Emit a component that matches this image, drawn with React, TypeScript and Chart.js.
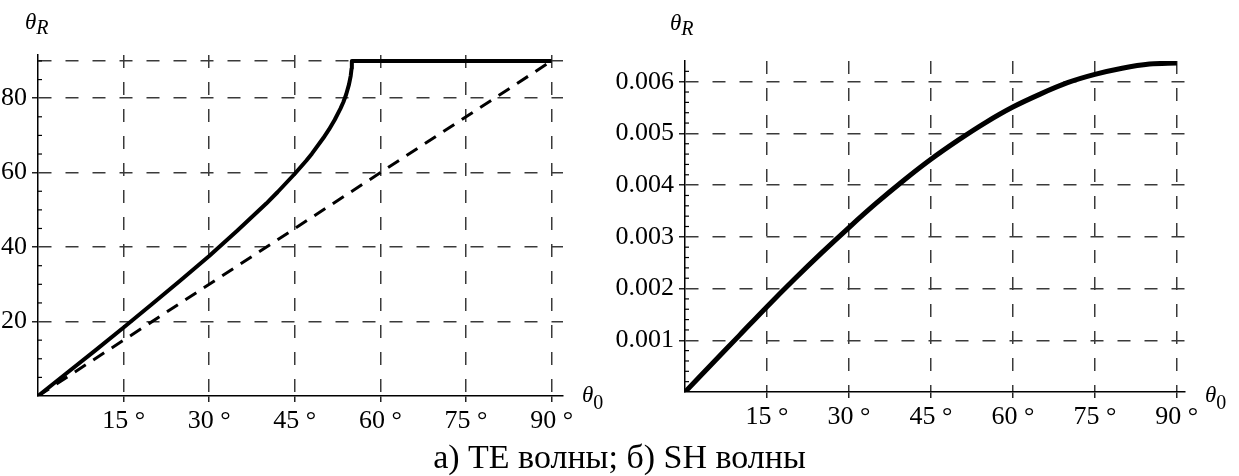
import React, { useEffect, useRef } from 'react';
import { Chart, registerables } from 'chart.js';

Chart.register(...registerables);

// ---- data: a) TE waves ----
const teIncidence = [0, 5, 10, 15, 20, 25, 30, 35, 40, 42, 45, 47, 48, 50, 51, 52, 53, 53.5, 54, 54.5, 54.8, 54.95, 55, 60, 65, 70, 75, 80, 85, 90];
const teRefracted = [0, 6.1, 12.2, 18.4, 24.7, 31.1, 37.6, 44.5, 51.7, 54.8, 59.7, 63.2, 65.1, 69.3, 71.6, 74.2, 77.2, 78.9, 81.0, 83.7, 86.0, 88.0, 90, 90, 90, 90, 90, 90, 90, 90];
const refIncidence = [0, 90];
const refValues = [0, 90];

// ---- data: б) SH waves ----
const shIncidence = [0, 5, 10, 15, 20, 25, 30, 35, 40, 45, 50, 55, 60, 65, 70, 75, 80, 85, 90];
const shRefracted = [0, 0.00055, 0.0011, 0.00165, 0.00218, 0.00269, 0.00318, 0.00365, 0.00409, 0.0045, 0.00487, 0.00521, 0.00551, 0.00576, 0.00598, 0.00614, 0.00626, 0.00634, 0.00636];

// ---- ticks ----
const xTicks = [0, 15, 30, 45, 60, 75, 90];
const xLabels = ['', '15 °', '30 °', '45 °', '60 °', '75 °', '90 °'];
const leftYTicks = [0, 5, 10, 15, 20, 25, 30, 35, 40, 45, 50, 55, 60, 65, 70, 75, 80, 85, 90];
const leftYLabelled = [20, 40, 60, 80];
const leftYGrid = [20, 40, 60, 80, 90];
const rightYTicks = [0, 0.0002, 0.0004, 0.0006, 0.0008, 0.001, 0.0012, 0.0014, 0.0016, 0.0018, 0.002, 0.0022, 0.0024, 0.0026, 0.0028, 0.003, 0.0032, 0.0034, 0.0036, 0.0038, 0.004, 0.0042, 0.0044, 0.0046, 0.0048, 0.005, 0.0052, 0.0054, 0.0056, 0.0058, 0.006, 0.0062];
const rightYLabelled = [0.001, 0.002, 0.003, 0.004, 0.005, 0.006];

const SERIF = "'Liberation Serif', 'Times New Roman', serif";
const GRID = '#3a3a3a';
const near = (a: number, list: number[]) => list.some((v) => Math.abs(v - a) < 1e-9);

const minorTicksPlugin = {
  id: 'minorTicks',
  afterDatasetsDraw(chart: any, _args: any, opts: any) {
    const y = chart.scales.y;
    const ctx = chart.ctx;
    ctx.save();
    ctx.strokeStyle = '#000';
    ctx.lineWidth = 1.2;
    for (const v of opts.values as number[]) {
      if (near(v, opts.skip)) continue;
      const py = y.getPixelForValue(v);
      ctx.beginPath();
      ctx.moveTo(y.right, py);
      ctx.lineTo(y.right + 4, py);
      ctx.stroke();
    }
    ctx.restore();
  },
};

function makeOptions(cfg: {
  xMax: number; yMax: number; yTicks: number[]; yLabelled: number[]; yGrid: number[];
  yFmt: (v: number) => string; yWidth: number; xHeight: number; padTop: number; padRight: number;
}) {
  return {
    animation: false,
    responsive: false,
    maintainAspectRatio: false,
    layout: { padding: { top: cfg.padTop, right: cfg.padRight, left: 0, bottom: 0 } },
    plugins: {
      legend: { display: false },
      tooltip: { enabled: false },
      minorTicks: { values: cfg.yTicks, skip: [0, ...cfg.yLabelled] },
    },
    elements: { point: { radius: 0 } },
    scales: {
      x: {
        type: 'linear',
        min: 0,
        max: cfg.xMax,
        afterBuildTicks: (s: any) => { s.ticks = xTicks.map((v) => ({ value: v })); },
        afterFit: (s: any) => { s.height = cfg.xHeight; },
        ticks: {
          autoSkip: false,
          maxRotation: 0,
          padding: 4,
          color: '#000',
          font: { family: SERIF, size: 26 },
          callback: (v: number) => xLabels[xTicks.indexOf(v)] ?? '',
        },
        grid: {
          color: (c: any) => (c.tick && c.tick.value > 0 ? GRID : 'rgba(0,0,0,0)'),
          tickColor: (c: any) => (c.tick && c.tick.value > 0 ? '#222' : 'rgba(0,0,0,0)'),
          lineWidth: 1.5,
          tickLength: 6,
        },
        border: { display: true, color: '#000', width: 1.5, dash: [13, 14] },
      },
      y: {
        type: 'linear',
        min: 0,
        max: cfg.yMax,
        afterBuildTicks: (s: any) => { s.ticks = cfg.yTicks.map((v) => ({ value: v })); },
        afterFit: (s: any) => { s.width = cfg.yWidth; },
        ticks: {
          autoSkip: false,
          padding: 5,
          color: '#000',
          font: { family: SERIF, size: 26 },
          callback: (v: number) => (near(v, cfg.yLabelled) ? cfg.yFmt(v) : ''),
        },
        grid: {
          color: (c: any) => (c.tick && near(c.tick.value, cfg.yGrid) ? GRID : 'rgba(0,0,0,0)'),
          tickColor: (c: any) => (c.tick && near(c.tick.value, cfg.yLabelled) ? '#222' : 'rgba(0,0,0,0)'),
          lineWidth: 1.5,
          tickLength: 6,
        },
        border: { display: true, color: '#000', width: 1.5, dash: [13, 14] },
      },
    },
  } as any;
}

function TEChart() {
  const ref = useRef<HTMLCanvasElement | null>(null);
  useEffect(() => {
    if (!ref.current) return;
    const chart = new Chart(ref.current, {
      type: 'line',
      data: {
        datasets: [
          {
            data: teIncidence.map((x, i) => ({ x, y: teRefracted[i] })),
            borderColor: '#000',
            borderWidth: 4,
            borderJoinStyle: 'round',
            tension: 0,
            pointRadius: 0,
          },
          {
            data: refIncidence.map((x, i) => ({ x, y: refValues[i] })),
            borderColor: '#000',
            borderWidth: 3,
            borderDash: [13, 9],
            tension: 0,
            pointRadius: 0,
          },
        ],
      },
      options: makeOptions({
        xMax: 92, yMax: 91.6, yTicks: leftYTicks, yLabelled: leftYLabelled, yGrid: leftYGrid,
        yFmt: (v) => String(v), yWidth: 38, xHeight: 44, padTop: 55, padRight: 600 - 563,
      }),
      plugins: [minorTicksPlugin],
    } as any);
    return () => chart.destroy();
  }, []);
  return <canvas ref={ref} width={600} height={440} style={{ position: 'absolute', left: 0, top: 0, width: 600, height: 440 }} />;
}

function SHChart() {
  const ref = useRef<HTMLCanvasElement | null>(null);
  useEffect(() => {
    if (!ref.current) return;
    const chart = new Chart(ref.current, {
      type: 'line',
      data: {
        datasets: [
          {
            data: shIncidence.map((x, i) => ({ x, y: shRefracted[i] })),
            borderColor: '#000',
            borderWidth: 5,
            cubicInterpolationMode: 'monotone',
            pointRadius: 0,
          },
        ],
      },
      options: makeOptions({
        xMax: 91.5, yMax: 0.0064, yTicks: rightYTicks, yLabelled: rightYLabelled, yGrid: rightYLabelled,
        yFmt: (v) => v.toFixed(3), yWidth: 85, xHeight: 48, padTop: 61, padRight: 639 - 585,
      }),
      plugins: [minorTicksPlugin],
    } as any);
    return () => chart.destroy();
  }, []);
  return <canvas ref={ref} width={639} height={440} style={{ position: 'absolute', left: 600, top: 0, width: 639, height: 440 }} />;
}

const axisLabel = (left: number, top: number, sub: string, subShift: number) => (
  <div style={{ position: 'absolute', left, top, fontFamily: SERIF, fontStyle: 'italic', fontSize: 23, lineHeight: '28px', color: '#000', whiteSpace: 'nowrap' }}>
    θ<span style={{ fontSize: 20, fontStyle: sub === '0' ? 'normal' : 'italic', position: 'relative', top: subShift }}>{sub}</span>
  </div>
);

export default function App() {
  return (
    <div style={{ position: 'absolute', left: 0, top: 0, width: 1239, height: 476, background: '#fff', overflow: 'hidden' }}>
      <TEChart />
      <SHChart />
      {axisLabel(25, 8, 'R', 5)}
      {axisLabel(670, 9, 'R', 5)}
      {axisLabel(582, 381, '0', 7)}
      {axisLabel(1205, 381, '0', 7)}
      <div style={{ position: 'absolute', left: 0, width: 1239, top: 440, textAlign: 'center', fontFamily: SERIF, fontSize: 34, lineHeight: '34px', color: '#000' }}>
        а) TE волны; б) SH волны
      </div>
    </div>
  );
}
